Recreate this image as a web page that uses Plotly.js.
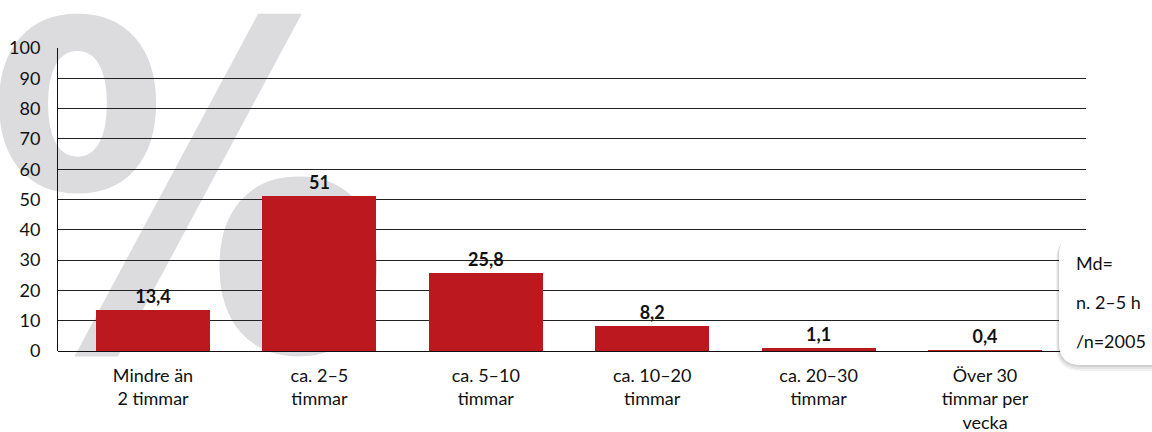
<!DOCTYPE html>
<html><head><meta charset="utf-8">
<script src="https://cdn.plot.ly/plotly-3.0.1.min.js"></script>
<style>
html,body{margin:0;padding:0;background:#fff;}
#wrap{position:relative;width:1152px;height:432px;overflow:hidden;}
#wm{position:absolute;left:-14px;top:-33px;font-family:"DejaVu Sans";font-weight:bold;font-size:453px;color:#dcdcde;line-height:1;z-index:0;transform:scaleX(0.89);transform-origin:0 0;}
#chart{position:absolute;left:0;top:0;width:1152px;height:432px;z-index:1;}
</style></head><body>
<div id="wrap"><div id="wm">%</div><div id="chart"></div></div>
<script>
const categories = ["Mindre än<br>2 timmar","ca. 2–5<br>timmar","ca. 5–10<br>timmar","ca. 10–20<br>timmar","ca. 20–30<br>timmar","Över 30<br>timmar per<br>vecka"];
const values = [13.4, 51, 25.8, 8.2, 1.1, 0.4];
const valueLabels = ["13,4","51","25,8","8,2","1,1","0,4"];
const yTicks = [0,10,20,30,40,50,60,70,80,90,100];
const noteLines = ["Md=","n. 2–5 h","/n=2005"];

const font = "Lato, 'Open Sans', sans-serif";
const trace = {
  type:"bar", x:categories, y:values, width:0.685,
  marker:{color:"#bb1820"},
  text:valueLabels, textposition:"outside", cliponaxis:false,
  textfont:{family:font,size:18,color:"#111",weight:"bold"},
  hoverinfo:"none"
};
const ann = noteLines.map((t,i)=>({
  xref:"paper", yref:"paper", x:1.0, xanchor:"left", y:(351-263-i*39)/303, yanchor:"middle",
  xshift:-12, text:t, showarrow:false, font:{family:font,size:18,color:"#111"}
}));
const layout = {
  width:1152, height:432,
  margin:{l:58,r:66,t:48,b:81},
  paper_bgcolor:"rgba(0,0,0,0)", plot_bgcolor:"rgba(0,0,0,0)",
  showlegend:false, bargap:0,
  xaxis:{type:"category", range:[-0.571,5.607], showgrid:false, ticks:"", showline:false,
    tickfont:{family:font,size:18,color:"#111"}, ticklabelstandoff:12, fixedrange:true},
  yaxis:{range:[0,100], tickvals:yTicks, showgrid:true, gridcolor:"#222", gridwidth:1,
    showline:true, linecolor:"#111", linewidth:1, zeroline:true, zerolinecolor:"#111", zerolinewidth:1,
    ticks:"", tickfont:{family:font,size:18,color:"#111"}, ticklabelstandoff:13, fixedrange:true},
  annotations:ann
};
function px2x(p){return (p-58)/1028;}
function py2y(p){return (351-p)/303;}
function rr(x0,y0,x1,y1,r){
  return `M ${px2x(x0+r)},${py2y(y0)} L ${px2x(x1)},${py2y(y0)} L ${px2x(x1)},${py2y(y1)} L ${px2x(x0+r)},${py2y(y1)} Q ${px2x(x0)},${py2y(y1)} ${px2x(x0)},${py2y(y1-r)} L ${px2x(x0)},${py2y(y0+r)} Q ${px2x(x0)},${py2y(y0)} ${px2x(x0+r)},${py2y(y0)} Z`;
}
const shapes = [];
[[6,0.05],[4,0.06],[2,0.08]].forEach(([d,a])=>{
  shapes.push({type:"path", xref:"paper", yref:"paper", layer:"above", path:rr(1059-d/2,233+d/2,1160,365+d,22+d/2), fillcolor:`rgba(0,0,0,${a})`, line:{width:0}});
});
shapes.push({type:"path", xref:"paper", yref:"paper", layer:"above", path:rr(1059,233,1160,365,22), fillcolor:"#ffffff", line:{width:0}});
layout.shapes = shapes;
Plotly.newPlot("chart",[trace],layout,{staticPlot:true});
</script></body></html>
